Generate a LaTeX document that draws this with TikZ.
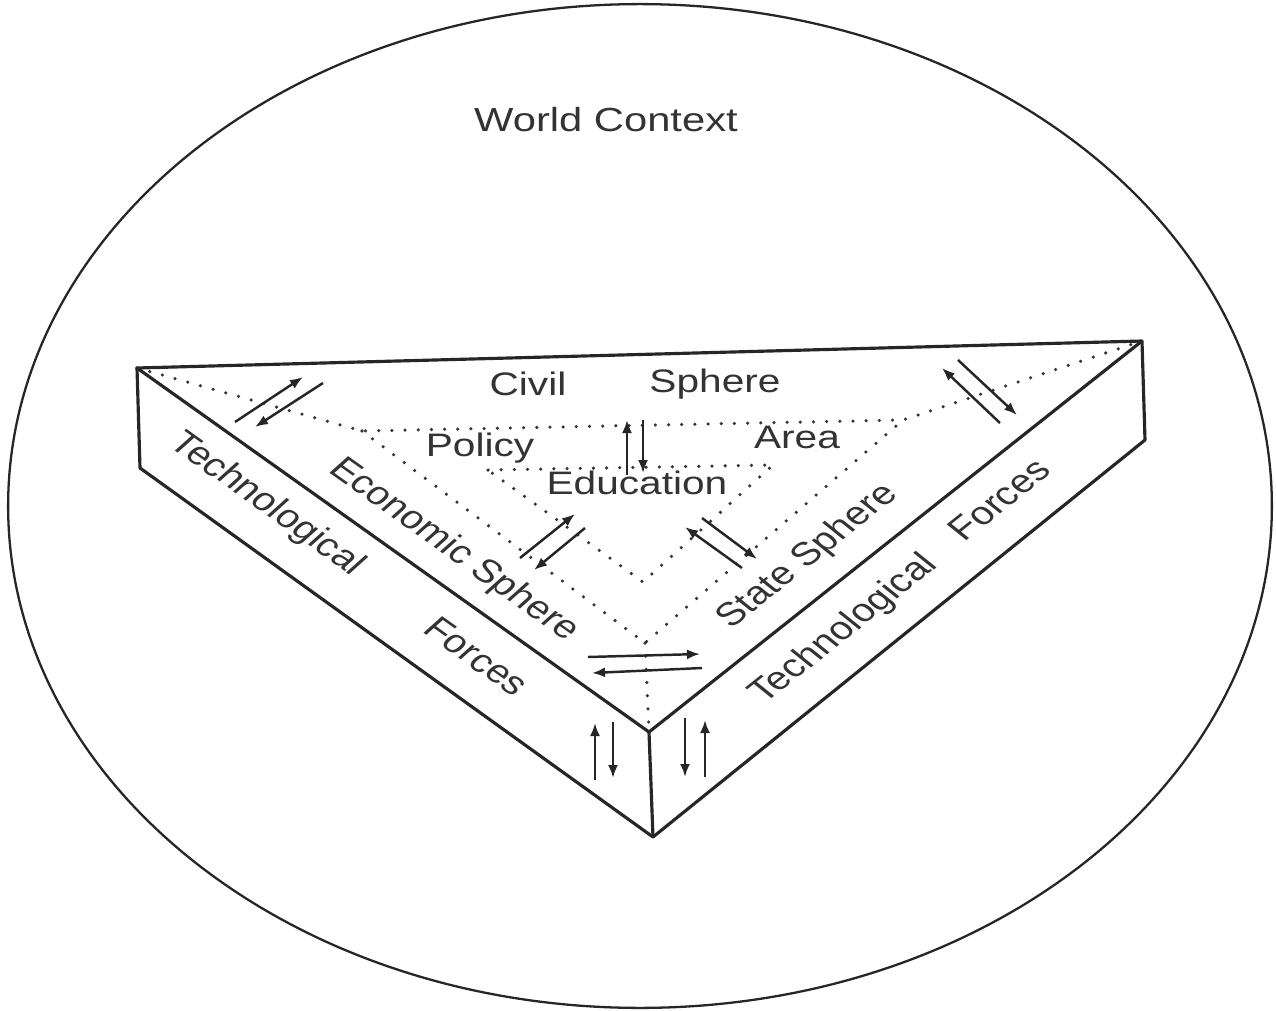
\documentclass[tikz,border=0pt]{standalone}
\usepackage{fontspec}
\setmainfont{Liberation Sans}
\usetikzlibrary{arrows.meta}

\begin{document}
\begin{tikzpicture}[x=0.02cm,y=-0.02cm,>={Latex[length=0.26cm,width=0.2cm]}]

% --- Global TikZ Styles ---
\tikzset{
    worldline/.style={
        draw=black!85,
        line width=1.3pt
    },
    edgeline/.style={
        draw=black!85,
        line width=1.8pt,
        line join=round
    },
    dotline/.style={
        draw=black!80,
        line width=2pt,
        line cap=round,
        dash pattern=on 0pt off 7.5pt
    },
    flowarrow/.style={
        ->,
        draw=black!85,
        line width=1.4pt
    },
    spheretext/.style={
        font=\fontsize{18.5}{22}\selectfont,
        text=black!80,
        xscale=1.25,
        inner sep=0pt,
        text height=0.72em,
        text depth=0pt
    }
}

\useasboundingbox (0,0) rectangle (1276,1011);

% ==================================================
% --- World context ---
% ==================================================

\draw[worldline] (640,506) ellipse [x radius=12.64cm, y radius=10.04cm];

\node[spheretext, font=\fontsize{19}{23}\selectfont] (world) at (606,125) {World Context};

% ==================================================
% --- Prism corners ---
% ==================================================

\coordinate (A) at (137,368);   % top face, left
\coordinate (B) at (1142,341);  % top face, right
\coordinate (C) at (649,732);   % top face, front
\coordinate (AL) at (140,468);  % base, left
\coordinate (BR) at (1145,440); % base, right
\coordinate (D) at (653,837);   % base, front

% Inner policy triangle
\coordinate (P1) at (362,431);
\coordinate (P2) at (903,420);
\coordinate (P3) at (645,643);

% Education triangle
\coordinate (Q1) at (488,470);
\coordinate (Q2) at (773,465);
\coordinate (Q3) at (643,582);

% ==================================================
% --- Dotted inner lines ---
% ==================================================

\draw[dotline] (A) -- (P1) -- (P2) -- (B);
\draw[dotline] (P1) -- (P3) -- (P2);
\draw[dotline] (P3) -- (C);
\draw[dotline] (Q1) -- (Q2) -- (Q3) -- cycle;

% ==================================================
% --- Solid prism edges ---
% ==================================================

\draw[edgeline] (A) -- (B) -- (C) -- cycle;
\draw[edgeline] (A) -- (AL) -- (D) -- (BR) -- (B);
\draw[edgeline] (C) -- (D);

% ==================================================
% --- Arrow pairs ---
% ==================================================

\foreach \xa/\ya/\xb/\yb in {235/422/303/377, 323/383/255/427,
    1000/423/942/368, 958/360/1017/415,
    627/475/627/420, 643/420/643/473,
    520/558/575/514, 585/528/534/570,
    742/568/685/527, 702/518/757/559,
    588/657/700/654, 702/668/592/673,
    595/780/595/723, 613/722/613/778,
    685/718/685/777, 705/777/705/720}{
    \draw[flowarrow] (\xa,\ya) -- (\xb,\yb);
}

% ==================================================
% --- Sphere labels ---
% ==================================================

\node[spheretext] (civil) at (528,389) {Civil};
\node[spheretext] (civilsph) at (715,386) {Sphere};
\node[spheretext] (policy) at (480,450) {Policy};
\node[spheretext] (area) at (797,442) {Area};
\node[spheretext] (education) at (637,488) {Education};

\node[spheretext, rotate=-41.7] (economic) at (452,552) {Economic Sphere};
\node[spheretext, rotate=44.9] (state) at (810,558) {State Sphere};

% Side faces
\node[spheretext, rotate=-41.7] (techleft) at (265,506) {Technological};
\node[spheretext, rotate=-41.7] (forcesleft) at (473,660) {Forces};
\node[spheretext, rotate=44.9] (techright) at (846,631) {Technological};
\node[spheretext, rotate=44.9] (forcesright) at (1003,503) {Forces};

\end{tikzpicture}
\end{document}
